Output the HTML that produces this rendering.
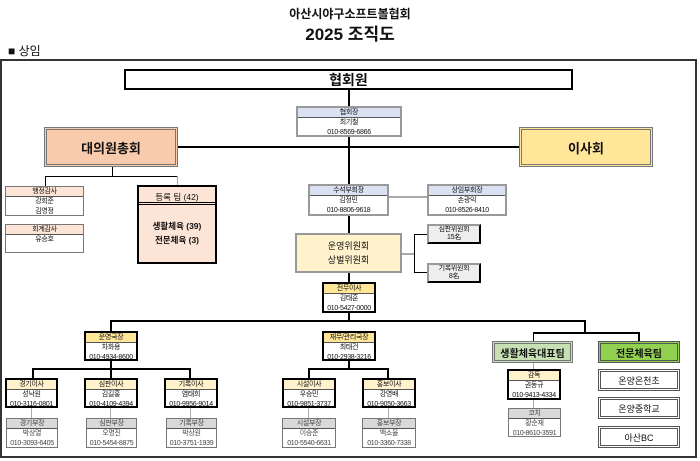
<!DOCTYPE html>
<html><head><meta charset="utf-8"><style>
*{margin:0;padding:0;box-sizing:border-box}
body{width:700px;height:461px;background:#fff;position:relative;overflow:hidden;font-family:"Liberation Sans","Noto Sans CJK KR",sans-serif;color:#111}
.a{position:absolute}
.l{position:absolute;background:#000}
.g{position:absolute;background:#aaa}
.p{position:absolute;border:1px solid #777;background:#fff;font-size:7px;letter-spacing:-0.3px;white-space:nowrap;text-align:center;line-height:10px;overflow:hidden}
.p.t{border:2px solid #000}
.p .h{border-bottom:1px solid #555;line-height:9px}
.c{display:flex;align-items:center;justify-content:center;text-align:center}
</style></head><body>
<div class="a" style="left:0;top:5px;width:700px;text-align:center;font-size:12px;font-weight:bold">아산시야구소프트볼협회</div>
<div class="a" style="left:0;top:20px;width:700px;text-align:center;font-size:17px;font-weight:bold">2025 조직도</div>
<div class="a" style="left:8px;top:42px;font-size:12px">■ 상임</div>
<div class="a" style="left:0;top:59px;width:697px;height:399px;border:2px solid #333"></div>

<div class="l" style="left:348px;top:89px;width:2px;height:233px"></div>
<div class="l" style="left:178px;top:146px;width:341px;height:2px"></div>
<div class="l" style="left:112px;top:167px;width:1px;height:10px"></div>
<div class="l" style="left:45px;top:176px;width:133px;height:1px"></div>
<div class="l" style="left:45px;top:176px;width:1px;height:10px"></div>
<div class="g" style="left:177px;top:176px;width:1px;height:9px"></div>
<div class="g" style="left:389px;top:196px;width:38px;height:2px"></div>
<div class="g" style="left:402px;top:253px;width:12px;height:2px"></div>
<div class="l" style="left:414px;top:234px;width:1px;height:39px"></div>
<div class="l" style="left:414px;top:234px;width:13px;height:1px"></div>
<div class="l" style="left:414px;top:272px;width:13px;height:1px"></div>
<div class="l" style="left:110px;top:320px;width:476px;height:2px"></div>
<div class="l" style="left:110px;top:320px;width:2px;height:11px"></div>
<div class="l" style="left:584px;top:320px;width:2px;height:13px"></div>
<div class="l" style="left:533px;top:332px;width:107px;height:2px"></div>
<div class="l" style="left:533px;top:332px;width:1px;height:9px"></div>
<div class="l" style="left:638px;top:332px;width:2px;height:9px"></div>
<div class="l" style="left:110px;top:360px;width:2px;height:9px"></div>
<div class="l" style="left:32px;top:368px;width:159px;height:2px"></div>
<div class="l" style="left:32px;top:368px;width:2px;height:10px"></div>
<div class="l" style="left:110px;top:368px;width:2px;height:10px"></div>
<div class="l" style="left:189px;top:368px;width:2px;height:10px"></div>
<div class="l" style="left:348px;top:360px;width:2px;height:9px"></div>
<div class="l" style="left:308px;top:368px;width:81px;height:2px"></div>
<div class="l" style="left:308px;top:368px;width:2px;height:10px"></div>
<div class="l" style="left:387px;top:368px;width:2px;height:10px"></div>
<div class="g" style="left:31px;top:408px;width:1px;height:10px"></div>
<div class="g" style="left:110px;top:408px;width:1px;height:10px"></div>
<div class="g" style="left:190px;top:408px;width:1px;height:10px"></div>
<div class="g" style="left:308px;top:408px;width:1px;height:10px"></div>
<div class="g" style="left:388px;top:408px;width:1px;height:10px"></div>
<div class="g" style="left:533px;top:362px;width:1px;height:7px"></div>
<div class="g" style="left:533px;top:400px;width:1px;height:8px"></div>

<div class="a c" style="left:124px;top:69px;width:449px;height:21px;border:2px solid #000;font-size:14px;font-weight:bold;background:#fff">협회원</div>

<div class="p" style="left:296px;top:106px;width:106px;height:31px;border:2px solid #999"><div class="h" style="background:#d9e1f2">협회장</div>최기철<br>010-8569-6866</div>

<div class="a c" style="left:44px;top:127px;width:134px;height:40px;background:#f8cbad;border:3px double #777;font-size:13px;font-weight:bold">대의원총회</div>
<div class="a c" style="left:519px;top:127px;width:134px;height:40px;background:#ffe699;border:3px double #777;font-size:13px;font-weight:bold">이사회</div>

<div class="p" style="left:5px;top:186px;width:79px;height:30px"><div class="h" style="background:#fce4d6">행정감사</div>강회준<br>김영정</div>
<div class="p" style="left:5px;top:224px;width:79px;height:29px"><div class="h" style="background:#fce4d6">회계감사</div>유승호</div>

<div class="a" style="left:137px;top:185px;width:80px;height:79px;background:#fce4d6;border:2px solid #000;font-size:8.5px;text-align:center">
<div style="height:18px;line-height:20px;border-bottom:3px double #000">등록 팀 (42)</div>
<div style="margin-top:14px;line-height:14px;font-weight:bold">생활체육 (39)<br>전문체육 (3)</div></div>

<div class="p" style="left:308px;top:184px;width:81px;height:32px;border:2px solid #999"><div class="h" style="background:#d9e1f2">수석부회장</div>김정민<br>010-8806-9618</div>
<div class="p" style="left:427px;top:184px;width:80px;height:32px;border:2px solid #999"><div class="h" style="background:#d9e1f2">상임부회장</div>손광익<br>010-8526-8410</div>

<div class="a c" style="left:295px;top:233px;width:107px;height:40px;background:#fff2cc;border:2px solid #999;font-size:9px;line-height:14px">운영위원회<br>상벌위원회</div>
<div class="p" style="left:427px;top:224px;width:54px;height:20px;background:#eee;border:2px solid #999;border-right-color:#000;border-bottom-color:#000;line-height:8px">심판위원회<br>15名</div>
<div class="p" style="left:427px;top:263px;width:54px;height:20px;background:#eee;border:2px solid #999;border-right-color:#000;border-bottom-color:#000;line-height:8px">기록위원회<br>8名</div>

<div class="p t" style="left:322px;top:282px;width:54px;height:31px"><div class="h" style="background:#ffe699">전무이사</div>김태훈<br>010-5427-0000</div>

<div class="p t" style="left:84px;top:331px;width:54px;height:30px"><div class="h" style="background:#ffe699">운영국장</div>차화용<br>010-4934-8600</div>
<div class="p t" style="left:322px;top:331px;width:54px;height:30px"><div class="h" style="background:#ffe699">재무/관리국장</div>최태건<br>010-2938-3216</div>

<div class="p t" style="left:5px;top:378px;width:53px;height:30px"><div class="h" style="background:#fff2cc">경기이사</div>성낙원<br>010-3116-0801</div>
<div class="p t" style="left:84px;top:378px;width:54px;height:30px"><div class="h" style="background:#fff2cc">심판이사</div>김길홍<br>010-4109-4394</div>
<div class="p t" style="left:164px;top:378px;width:54px;height:30px"><div class="h" style="background:#fff2cc">기록이사</div>염태희<br>010-9956-9014</div>
<div class="p t" style="left:282px;top:378px;width:54px;height:30px"><div class="h" style="background:#fff2cc">시설이사</div>우승민<br>010-9851-3737</div>
<div class="p t" style="left:362px;top:378px;width:54px;height:30px"><div class="h" style="background:#fff2cc">홍보이사</div>강영배<br>010-9050-3663</div>

<div class="p" style="left:6px;top:418px;width:52px;height:30px;color:#444"><div class="h" style="background:#d9d9d9">경기부장</div>박상열<br>010-3093-6405</div>
<div class="p" style="left:86px;top:418px;width:51px;height:30px;color:#444"><div class="h" style="background:#d9d9d9">심판부장</div>오명진<br>010-5454-8875</div>
<div class="p" style="left:166px;top:418px;width:51px;height:30px;color:#444"><div class="h" style="background:#d9d9d9">기록부장</div>박상원<br>010-3751-1939</div>
<div class="p" style="left:282px;top:418px;width:54px;height:30px;color:#444"><div class="h" style="background:#d9d9d9">시설부장</div>이승준<br>010-5540-6631</div>
<div class="p" style="left:362px;top:418px;width:54px;height:30px;color:#444"><div class="h" style="background:#d9d9d9">홍보부장</div>백소율<br>010-3360-7338</div>

<div class="a c" style="left:492px;top:341px;width:81px;height:22px;background:#c6e0b4;border:3px double #777;font-size:10px;font-weight:bold">생활체육대표팀</div>
<div class="a c" style="left:598px;top:341px;width:82px;height:22px;background:#92d050;border:3px double #555;font-size:10px;font-weight:bold">전문체육팀</div>
<div class="p t" style="left:507px;top:369px;width:54px;height:31px"><div class="h" style="background:#fff2cc">감독</div>권동규<br>010-9413-4334</div>
<div class="p" style="left:508px;top:408px;width:53px;height:29px;color:#444"><div class="h" style="background:#d9d9d9">코치</div>황순재<br>010-8610-3591</div>
<div class="a c" style="left:598px;top:369px;width:82px;height:22px;border:3px double #555;font-size:9px">온양온천초</div>
<div class="a c" style="left:598px;top:397px;width:82px;height:22px;border:3px double #555;font-size:9px">온양중학교</div>
<div class="a c" style="left:598px;top:426px;width:82px;height:22px;border:3px double #555;font-size:9px">아산BC</div>
</body></html>
